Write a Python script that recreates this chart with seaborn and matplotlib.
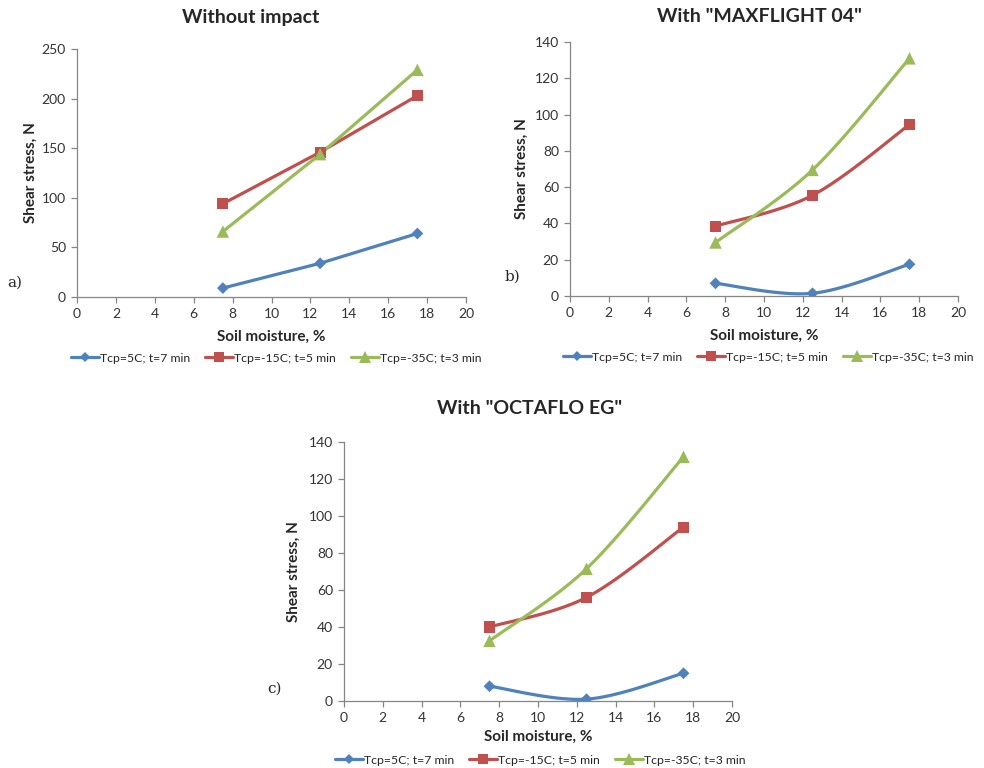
import numpy as np
import pandas as pd
import matplotlib
matplotlib.use("Agg")
import matplotlib.pyplot as plt
import seaborn as sns
from matplotlib.lines import Line2D

# Data
moisture = [7.5, 12.5, 17.5]
series_names = ["Tcp=5C; t=7 min", "Tcp=-15C; t=5 min", "Tcp=-35C; t=3 min"]

a_5 = [9, 34, 64]
a_15 = [94, 146, 203]
a_35 = [66, 144, 229]

b_5 = [7, 1.5, 17.5]
b_15 = [38.5, 55.5, 94.5]
b_35 = [29.5, 69.5, 131]

c_5 = [8, 1, 15]
c_15 = [40, 56, 94]
c_35 = [32.5, 71.5, 132]

titles = ["Without impact", 'With "MAXFLIGHT 04"', 'With "OCTAFLO EG"']
panel_tags = ["a)", "b)", "c)"]

sns.set_theme(style="white")
plt.rcParams['font.family'] = ['Lato', 'DejaVu Sans']

colors = ['#4F81BD', '#C0504D', '#9BBB59']
markers = ['D', 's', '^']
msizes = [6, 8, 9]
grey = '#868686'


def smooth(xs, ys, n=40):
    # Excel-like smoothed line (Catmull-Rom through the points)
    xs = np.asarray(xs, float)
    ys = np.asarray(ys, float)
    px = np.concatenate([[xs[0]], xs, [xs[-1]]])
    py = np.concatenate([[ys[0]], ys, [ys[-1]]])
    outx, outy = [], []
    for i in range(1, len(px) - 2):
        t = np.linspace(0, 1, n)
        for p, out in ((px, outx), (py, outy)):
            p0, p1, p2, p3 = p[i - 1], p[i], p[i + 1], p[i + 2]
            c1 = p1 + (p2 - p0) / 6
            c2 = p2 - (p3 - p1) / 6
            out.extend((1 - t) ** 3 * p1 + 3 * (1 - t) ** 2 * t * c1
                       + 3 * (1 - t) * t ** 2 * c2 + t ** 3 * p2)
    return outx, outy


def make_df(vals):
    rows = []
    for name, v in zip(series_names, vals):
        for x, y in zip(moisture, v):
            rows.append({'moisture': x, 'stress': y, 'series': name})
    return pd.DataFrame(rows)


W, H = 984, 768
fig = plt.figure(figsize=(9.84, 7.68), dpi=100)
# axes boxes in pixels: left, top, right, bottom
boxes = [(77, 49, 466, 297), (570, 42, 958, 296), (344, 442, 732, 701)]
title_xy = [(251, 17), (759, 17), (530, 408)]
ylabel_x = [31, 522, 294]
tag_xy = [(15, 283), (512, 277), (274, 689)]
legend_cx = [276, 768, 540]

panels = [
    (make_df([a_5, a_15, a_35]), False, 250, 50),
    (make_df([b_5, b_15, b_35]), True, 140, 20),
    (make_df([c_5, c_15, c_35]), True, 140, 20),
]

for k, (df, is_smooth, ymax, ystep) in enumerate(panels):
    l, t, r, b = boxes[k]
    ax = fig.add_axes([l / W, 1 - b / H, (r - l) / W, (b - t) / H])
    for i, name in enumerate(series_names):
        sub = df[df['series'] == name]
        if is_smooth:
            sx, sy = smooth(sub['moisture'], sub['stress'])
            ax.plot(sx, sy, color=colors[i], lw=2.3, solid_capstyle='round')
        else:
            sns.lineplot(data=sub, x='moisture', y='stress', ax=ax,
                         color=colors[i], lw=2.3, legend=False)
        sns.scatterplot(data=sub, x='moisture', y='stress', ax=ax,
                        color=colors[i], marker=markers[i], s=msizes[i] ** 2,
                        edgecolor='none', legend=False, zorder=3)
    ax.set_xlim(0, 20)
    ax.set_ylim(0, ymax)
    ax.set_xticks(np.arange(0, 21, 2))
    ax.set_yticks(np.arange(0, ymax + 1, ystep))
    for s in ['top', 'right']:
        ax.spines[s].set_visible(False)
    for s in ['left', 'bottom']:
        ax.spines[s].set_color(grey)
        ax.spines[s].set_linewidth(0.9)
    ax.tick_params(axis='both', which='both', direction='out', length=4,
                   width=0.9, color=grey, labelsize=10, labelcolor='#333333',
                   left=True, bottom=True, pad=4)

    hpx = b - t
    wpx = r - l
    ax.set_xlabel('Soil moisture, %', fontsize=11, fontweight='bold', va='center')
    xl_y = 40 if k < 2 else 36
    ax.xaxis.set_label_coords(0.5, -xl_y / hpx)
    ax.set_ylabel('Shear stress, N', fontsize=11, fontweight='bold', va='center')
    ax.yaxis.set_label_coords((ylabel_x[k] - l) / wpx, 0.5)

    handles = [Line2D([], [], color=colors[i], lw=2.3, marker=markers[i],
                      markersize=msizes[i] * 0.9, markeredgewidth=0)
               for i in range(3)]
    ax.legend(handles, series_names, loc='center',
              bbox_to_anchor=((legend_cx[k] - l) / wpx,
                              -(61 if k < 2 else 59) / hpx), ncol=3,
              frameon=False, fontsize=8.8, handlelength=2.3,
              handletextpad=0.1, columnspacing=1.2, borderaxespad=0)

    fig.text(title_xy[k][0] / W, 1 - title_xy[k][1] / H, titles[k],
             fontsize=14, fontweight='bold', ha='center', va='center')
    fig.text(tag_xy[k][0] / W, 1 - tag_xy[k][1] / H, panel_tags[k],
             family='DejaVu Serif', fontsize=11, ha='center', va='center')

fig.savefig('out.png', dpi=100)
